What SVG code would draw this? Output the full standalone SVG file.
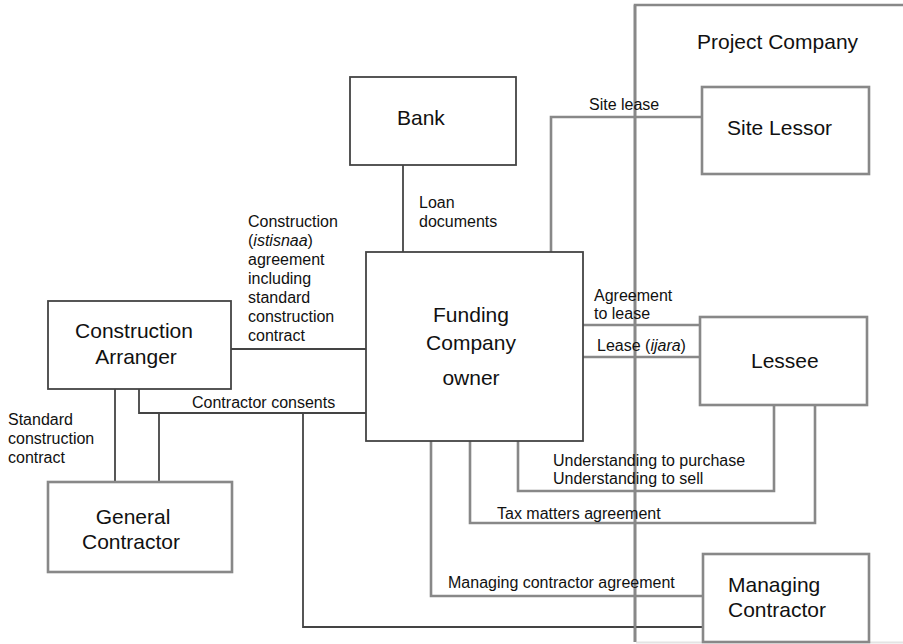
<svg xmlns="http://www.w3.org/2000/svg" width="903" height="644" viewBox="0 0 903 644">
<style>
.dk{fill:none;stroke:#444;stroke-width:1.8}
.gy{fill:none;stroke:#888;stroke-width:2.6}
.nb{fill:#fff}
text{font-family:"Liberation Sans",Arial,Helvetica,sans-serif;fill:#111}
.n{font-size:21px}
.l{font-size:16px}
.c{text-anchor:middle}
</style>
<rect width="903" height="644" fill="#fff"/>
<g id="project-company">
<path class="gy" d="M905,5 H635 V642"/>
<line x1="636" y1="642.5" x2="903" y2="642.5" stroke="#e4e4e4" stroke-width="2"/>
<text class="n" x="697" y="49">Project Company</text>
</g>
<g id="connectors">
<path class="dk" d="M403,165 V252"/>
<path class="dk" d="M231,349 H366"/>
<path class="dk" d="M139,389 V413 H366"/>
<path class="dk" d="M115,389 V482"/>
<path class="dk" d="M159,413 V482"/>
<path class="dk" d="M303,413 V627 H703"/>
<path class="gy" d="M551,252 V117 H702"/>
<path class="gy" d="M583,325 H700"/>
<path class="gy" d="M583,357 H700"/>
<path class="gy" d="M518,441 V491 H774 V405"/>
<path class="gy" d="M470,441 V523 H815 V405"/>
<path class="gy" d="M431,441 V596 H703"/>
<path class="gy" d="M635,5 V642"/>
</g>
<g id="labels">
<text class="l" x="589" y="110">Site lease</text>
<text class="l" x="419" y="208">Loan</text>
<text class="l" x="419" y="227">documents</text>
<text class="l" x="248" y="227">Construction</text>
<text class="l" x="248" y="246">(<tspan font-style="italic">istisnaa</tspan>)</text>
<text class="l" x="248" y="265">agreement</text>
<text class="l" x="248" y="284">including</text>
<text class="l" x="248" y="303">standard</text>
<text class="l" x="248" y="322">construction</text>
<text class="l" x="248" y="341">contract</text>
<text class="l" x="192" y="408">Contractor consents</text>
<text class="l" x="8" y="425">Standard</text>
<text class="l" x="8" y="444">construction</text>
<text class="l" x="8" y="463">contract</text>
<text class="l" x="594" y="301">Agreement</text>
<text class="l" x="594" y="319">to lease</text>
<text class="l" x="597" y="351">Lease (<tspan font-style="italic">ijara</tspan>)</text>
<text class="l" x="553" y="466">Understanding to purchase</text>
<text class="l" x="553" y="484">Understanding to sell</text>
<text class="l" x="497" y="519">Tax matters agreement</text>
<text class="l" x="448" y="588">Managing contractor agreement</text>
</g>
<g id="bank">
<rect class="dk nb" x="350" y="77" width="166" height="88"/>
<text class="n" x="397" y="125">Bank</text>
</g>
<g id="funding-company">
<rect class="dk nb" x="366" y="252" width="217" height="189"/>
<text class="n c" x="471" y="322">Funding</text>
<text class="n c" x="471" y="350">Company</text>
<text class="n c" x="471" y="385">owner</text>
</g>
<g id="construction-arranger">
<rect class="dk nb" x="48" y="301" width="183" height="88"/>
<text class="n c" x="134" y="338">Construction</text>
<text class="n c" x="136" y="364">Arranger</text>
</g>
<g id="general-contractor">
<rect class="gy nb" x="48" y="482" width="184" height="90"/>
<text class="n c" x="133" y="524">General</text>
<text class="n c" x="131" y="549">Contractor</text>
</g>
<g id="site-lessor">
<rect class="gy nb" x="702" y="87" width="167" height="87"/>
<text class="n" x="727" y="135">Site Lessor</text>
</g>
<g id="lessee">
<rect class="gy nb" x="700" y="317" width="167" height="88"/>
<text class="n" x="751" y="368">Lessee</text>
</g>
<g id="managing-contractor">
<rect class="gy nb" x="703" y="554" width="166" height="88"/>
<text class="n" x="728" y="592">Managing</text>
<text class="n" x="728" y="617">Contractor</text>
</g>
</svg>
